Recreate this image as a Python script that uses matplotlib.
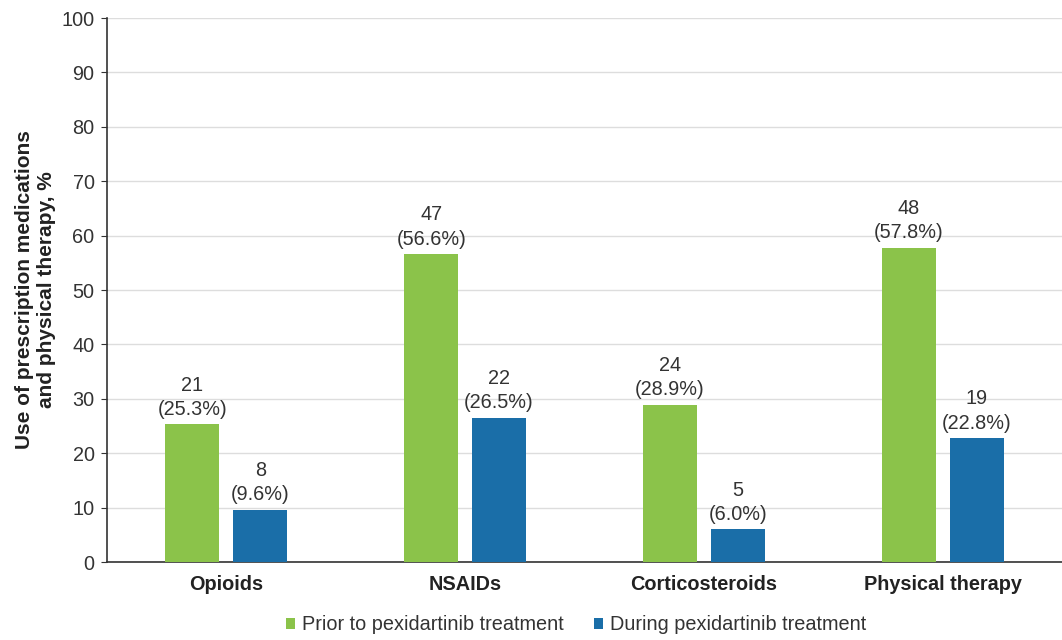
import numpy as np
import matplotlib.pyplot as plt

categories = ['Opioids', 'NSAIDs', 'Corticosteroids', 'Physical therapy']
prior_pct = [25.3, 56.6, 28.9, 57.8]
prior_n = [21, 47, 24, 48]
during_pct = [9.6, 26.5, 6.0, 22.8]
during_n = [8, 22, 5, 19]
series_names = ['Prior to pexidartinib treatment', 'During pexidartinib treatment']

green = '#8bc34a'
blue = '#1a6ea8'
txt = '#333333'
fs = 14.3

plt.rcParams['font.family'] = ['Liberation Sans', 'DejaVu Sans']

fig = plt.figure(figsize=(10.62, 6.4), dpi=100)
ax = fig.add_axes([107/1062, 78/640, 955/1062, 544/640])

x = np.arange(len(categories))
w = 0.226
off = 0.142
b1 = ax.bar(x - off, prior_pct, w, color=green, label=series_names[0], zorder=3)
b2 = ax.bar(x + off, during_pct, w, color=blue, label=series_names[1], zorder=3)

for xi, p, n in zip(x - off, prior_pct, prior_n):
    ax.text(xi, p + 1.0, f'{n}\n({p:.1f}%)', ha='center', va='bottom',
            fontsize=fs, color=txt, linespacing=1.35)
for xi, p, n in zip(x + off, during_pct, during_n):
    ax.text(xi, p + 1.0, f'{n}\n({p:.1f}%)', ha='center', va='bottom',
            fontsize=fs, color=txt, linespacing=1.35)

ax.set_xlim(-0.5, 3.5)
ax.set_ylim(0, 100)
ax.set_yticks(range(0, 101, 10))
ax.set_xticks(x)
ax.set_xticklabels(categories, fontsize=fs, fontweight='bold', color='#222222')
ax.tick_params(axis='x', length=0, pad=9)
ax.tick_params(axis='y', labelsize=fs, labelcolor=txt, length=4, color='#333333', pad=5)
ax.yaxis.grid(True, color='#dddddd', linewidth=1, zorder=0)
ax.set_axisbelow(True)
for s in ['top', 'right']:
    ax.spines[s].set_visible(False)
ax.spines['left'].set_color('#333333')
ax.spines['bottom'].set_color('#333333')
ax.spines['left'].set_linewidth(1.2)
ax.spines['bottom'].set_linewidth(1.2)

ax.set_ylabel('Use of prescription medications\nand physical therapy, %', fontsize=15,
              fontweight='bold', color='#222222', labelpad=4, linespacing=1.2)

fig.legend(handles=[b1, b2], loc='center', bbox_to_anchor=(576/1062, 1 - 625/640),
           ncol=2, frameon=False, fontsize=fs, handlelength=0.45, handleheight=0.45,
           handletextpad=0.35, columnspacing=1.5, labelcolor=txt)

fig.savefig('out.png', dpi=100)
